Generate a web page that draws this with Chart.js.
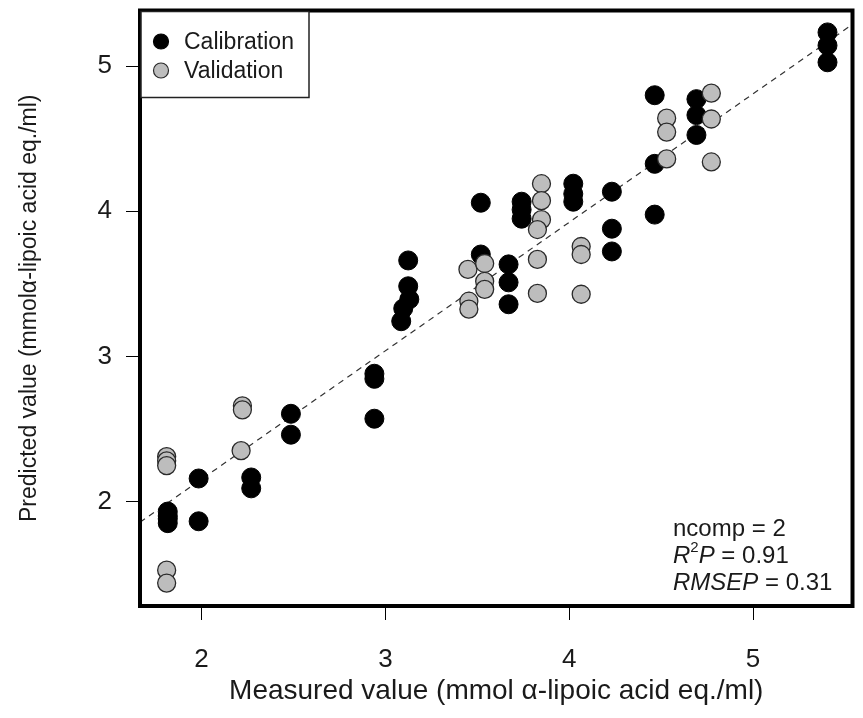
<!DOCTYPE html>
<html>
<head>
<meta charset="utf-8">
<script src="https://cdn.jsdelivr.net/npm/chart.js@4.4.1/dist/chart.umd.min.js"></script>
<style>
  html, body { margin: 0; padding: 0; background: #fff; }
  #wrap { width: 863px; height: 718px; }
</style>
</head>
<body>
<div id="wrap"><canvas id="plot" width="863" height="718"></canvas></div>
<script>
// PLS prediction plot: measured vs predicted alpha-lipoic acid equivalents.
const calMeasured = [
  1.816, 1.816, 1.816, 1.816, 1.984, 1.984, 2.27, 2.27, 2.486, 2.486,
  2.94, 2.94, 2.94, 3.124, 3.124, 3.13, 3.097, 3.086, 3.519, 3.519,
  3.67, 3.67, 3.67, 3.741, 3.741, 3.741, 4.022, 4.022, 4.022, 4.232,
  4.232, 4.232, 4.465, 4.465, 4.465, 4.692, 4.692, 4.692, 5.405, 5.405,
  5.405
];
const calPredicted = [
  1.93, 1.90, 1.88, 1.85, 2.158, 1.863, 2.165, 2.09, 2.604, 2.46,
  2.88, 2.845, 2.57, 3.661, 3.483, 3.393, 3.33, 3.242, 4.059, 3.702,
  3.634, 3.51, 3.359, 4.066, 4.011, 3.949, 4.19, 4.12, 4.066, 4.135,
  3.88, 3.723, 4.80, 4.327, 3.977, 4.773, 4.663, 4.526, 5.233, 5.143,
  5.027
];
const valMeasured = [
  1.81, 1.81, 1.81, 1.81, 1.81, 2.222, 2.222, 2.215, 3.449, 3.54,
  3.54, 3.54, 3.454, 3.454, 3.849, 3.849, 3.849, 3.827, 3.827, 3.827,
  4.065, 4.065, 4.065, 4.53, 4.53, 4.53, 4.773, 4.773, 4.773
];
const valPredicted = [
  2.309, 2.28, 2.247, 1.526, 1.437, 2.659, 2.631, 2.35, 3.599, 3.64,
  3.517, 3.462, 3.38, 3.325, 4.19, 4.073, 3.942, 3.874, 3.668, 3.434,
  3.757, 3.702, 3.428, 4.642, 4.546, 4.361, 4.814, 4.636, 4.34
];
const xTicks = [2, 3, 4, 5];
const yTicks = [2, 3, 4, 5];
const xRange = [1.665, 5.541];
const yRange = [1.279, 5.384];
// fitted line through the predictions
const fitIntercept = 0.382;
const fitSlope = 0.8855;
const statLines = [
  [{ t: "ncomp = 2" }],
  [{ t: "R", i: true }, { t: "2", sup: true }, { t: "P", i: true }, { t: " = 0.91" }],
  [{ t: "RMSEP", i: true }, { t: " = 0.31" }]
];

const FONT = "'Liberation Sans', Arial, sans-serif";
const INK = "#1a1a1a";
const GREY = "#bdbdbd";

const toPts = (xs, ys) => xs.map((x, i) => ({ x, y: ys[i] }));
const fitLine = xRange.map((x) => ({ x, y: fitIntercept + fitSlope * x }));

// heavy frame, legend box and the model statistics
const frame = {
  id: "frame",
  afterDraw(chart) {
    const { ctx, chartArea: a } = chart;
    ctx.save();
    ctx.strokeStyle = "#000";
    ctx.lineWidth = 4;
    ctx.strokeRect(a.left, a.top, a.right - a.left, a.bottom - a.top);

    // legend
    const lx = a.left + 1, ly = a.top + 1, lw = 168, lh = 86;
    ctx.fillStyle = "#fff";
    ctx.fillRect(lx, ly, lw, lh);
    ctx.lineWidth = 1.5;
    ctx.strokeStyle = "#222";
    ctx.strokeRect(lx, ly, lw, lh);
    ctx.font = "23px " + FONT;
    ctx.textBaseline = "middle";
    chart.data.datasets.slice(0, 2).forEach((ds, k) => {
      const cy = ly + 30 + k * 29;
      ctx.beginPath();
      ctx.arc(lx + 20, cy, 7.5, 0, Math.PI * 2);
      ctx.fillStyle = ds.backgroundColor;
      ctx.fill();
      ctx.lineWidth = 1.2;
      ctx.strokeStyle = ds.borderColor;
      ctx.stroke();
      ctx.fillStyle = INK;
      ctx.fillText(ds.label, lx + 43, cy + 1);
    });

    // statistics, bottom right
    ctx.fillStyle = INK;
    ctx.textBaseline = "alphabetic";
    statLines.forEach((parts, k) => {
      let x = 673;
      const base = 536 + k * 27;
      parts.forEach((p) => {
        const size = p.sup ? 15 : 24;
        ctx.font = (p.i ? "italic " : "") + size + "px " + FONT;
        ctx.fillText(p.t, x, p.sup ? base - 11 : base);
        x += ctx.measureText(p.t).width;
      });
    });
    ctx.restore();
  }
};

// fixed axis band; no extra room reserved for the end labels
const axisCommon = (ticks, fixSize) => ({
  type: "linear",
  border: { display: false },
  grid: {
    drawOnChartArea: false,
    drawTicks: true,
    tickLength: 14,
    tickColor: "#000",
    lineWidth: 1
  },
  afterBuildTicks(axis) { axis.ticks = ticks.map((v) => ({ value: v })); },
  afterFit(axis) {
    fixSize(axis);
    axis.paddingTop = 0;
    axis.paddingBottom = 0;
    axis.paddingLeft = 0;
    axis.paddingRight = 0;
  }
});

new Chart(document.getElementById("plot"), {
  type: "scatter",
  data: {
    datasets: [
      {
        label: "Calibration",
        data: toPts(calMeasured, calPredicted),
        backgroundColor: "#000",
        borderColor: "#000",
        borderWidth: 1,
        pointRadius: 9.5,
        order: 2
      },
      {
        label: "Validation",
        data: toPts(valMeasured, valPredicted),
        backgroundColor: GREY,
        borderColor: "#2a2a2a",
        borderWidth: 1.3,
        pointRadius: 9,
        order: 1
      },
      {
        type: "line",
        label: "fit",
        data: fitLine,
        borderColor: "#333",
        borderWidth: 1.2,
        borderDash: [6, 5],
        pointRadius: 0,
        fill: false,
        order: 3
      }
    ]
  },
  options: {
    responsive: false,
    devicePixelRatio: 1,
    animation: false,
    layout: { padding: { top: 8, right: 6, left: 0, bottom: 0 } },
    plugins: { legend: { display: false }, tooltip: { enabled: false } },
    scales: {
      x: {
        ...axisCommon(xTicks, (s) => { s.height = 112; }),
        min: xRange[0],
        max: xRange[1],
        ticks: { color: INK, padding: 24, font: { family: FONT, size: 26 } },
        title: {
          display: true,
          text: "Measured value (mmol α-lipoic acid eq./ml)",
          color: INK,
          font: { family: FONT, size: 28 },
          padding: { top: 0, bottom: 10 }
        }
      },
      y: {
        ...axisCommon(yTicks, (s) => { s.width = 140; }),
        min: yRange[0],
        max: yRange[1],
        ticks: { color: INK, padding: 14, font: { family: FONT, size: 26 } },
        title: {
          display: true,
          text: "Predicted value (mmolα-lipoic acid eq./ml)",
          color: INK,
          font: { family: FONT, size: 23 },
          padding: { top: 16, bottom: 0 }
        }
      }
    }
  },
  plugins: [frame]
});
</script>
</body>
</html>
